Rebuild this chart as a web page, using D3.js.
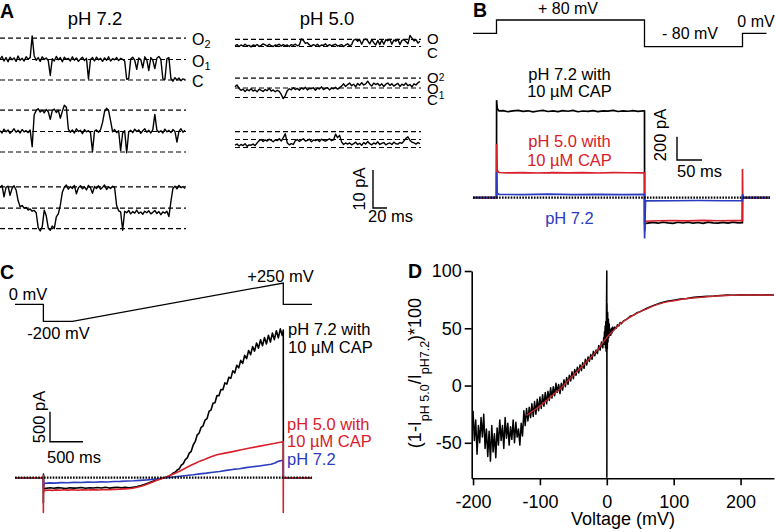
<!DOCTYPE html>
<html><head><meta charset="utf-8">
<script src="https://cdn.jsdelivr.net/npm/d3@7"></script>
<style>
body{margin:0;background:#fff}
svg{display:block}
text{font-family:"Liberation Sans",Arial,Helvetica,sans-serif}
</style>
</head><body>
<svg id="c" width="776" height="532"></svg>
<script>
// ================= DATA =================
// Panel A: single-channel traces (pA relative to closed level), uniform samples over the sweep
const aTraceMs = 264;
const a72Row1 = [5.4,6.2,5.0,5.9,4.8,6.0,5.3,5.8,4.9,6.3,5.2,5.7,5.0,6.1,5.5,5.9,
 11.6,6.4,5.2,5.9,4.9,6.1,5.4,5.8,5.1,1.2,
 5.6,5.0,6.2,5.3,5.9,4.8,6.0,5.4,5.7,5.0,6.1,5.2,5.8,4.9,5.5,6.0,5.1,5.7,
 0.3,
 5.4,5.9,5.0,6.0,5.3,5.7,4.9,5.8,5.2,6.1,5.0,5.6,5.3,5.9,5.1,5.7,5.4,5.0,
 0.2,0.4,
 5.5,6.0,5.2,2.8,5.8,5.4,3.2,6.1,5.3,2.5,5.9,5.2,3.0,5.7,6.2,5.4,
 0.3,0.1,5.6,5.9,
 0.4,-0.3,0.6,0.0,0.5,-0.2,0.3,0.1];
const a72Row2 = [5.6,5.0,6.0,5.3,5.8,4.9,5.5,6.1,5.2,5.7,5.0,5.9,5.3,5.6,5.1,5.8,
 1.4,
 9.8,10.9,11.4,10.5,11.0,10.3,11.2,10.6,8.6,10.9,11.3,10.4,11.0,8.9,10.7,12.3,11.8,
 6.0,5.2,5.8,5.0,6.1,5.4,5.7,4.8,5.9,5.3,5.6,5.1,0.1,5.5,5.8,5.2,5.9,
 7.8,10.6,11.5,10.9,8.2,
 5.3,5.9,5.1,5.6,
 0.4,5.0,5.6,-0.2,5.3,
 5.7,5.1,6.0,5.4,5.8,4.9,5.6,6.1,5.2,5.7,5.0,5.9,
 9.9,
 5.8,5.2,5.6,5.0,6.0,5.3,5.7,5.1,5.9,5.4,
 2.6,
 5.5,6.1,5.2,5.7];
const a72Row3 = [10.8,11.4,8.4,10.9,11.2,8.8,10.6,11.3,10.2,
 7.4,5.8,6.1,5.4,5.6,4.9,5.2,4.6,4.8,4.2,
 0.3,-0.6,0.5,
 4.9,3.4,
 0.2,-0.4,0.7,0.0,
 3.1,3.9,6.2,
 9.6,
 10.9,11.5,10.4,11.1,10.6,11.4,9.2,10.8,11.3,10.5,11.0,10.2,11.4,10.7,9.3,11.1,10.6,11.3,10.4,10.9,11.5,10.3,11.0,10.6,11.2,10.8,
 6.1,4.7,4.4,-0.4,4.6,
 4.2,4.8,3.9,4.5,4.1,4.9,4.0,4.4,3.8,4.6,4.2,4.7,3.9,4.3,4.8,4.0,4.5,3.7,4.4,4.1,4.6,3.2,
 7.2,10.6,
 11.2,10.5,11.4,10.8,11.1,10.6];
const a50Row1 = [0.2,0.5,0.0,0.4,0.1,0.6,0.2,0.3,-0.1,0.4,0.2,0.5,0.0,0.3,0.7,0.4,0.1,0.6,0.2,0.0,0.4,0.3,0.6,0.1,0.5,0.2,0.4,0.0,0.5,0.3,0.6,0.2,0.4,
 2.0,1.6,0.8,1.0,0.4,
 0.1,0.5,0.2,0.6,0.0,0.4,0.3,0.7,0.1,0.5,0.2,0.4,0.6,0.1,0.3,0.5,0.0,0.4,0.7,0.2,0.5,
 1.7,1.9,1.4,1.8,0.6,1.7,2.0,1.5,0.7,1.8,
 1.0,0.4,1.6,0.5,1.7,0.6,
 1.8,1.5,1.9,0.6,1.7,1.4,1.9,0.5,1.6,1.8,1.3,0.7,
 2.9,2.2,1.5,1.8,0.9,1.4];
const a50Row2 = [2.8,3.3,2.4,
 1.9,2.2,1.6,2.1,1.8,2.3,1.7,2.0,1.5,2.2,1.9,1.6,2.1,1.8,2.4,1.7,2.0,1.5,1.9,1.6,
 0.8,-0.3,0.5,
 1.8,2.3,2.0,2.6,2.1,2.4,1.9,2.5,2.2,2.7,2.0,2.4,2.3,2.6,1.9,2.5,2.2,2.8,2.1,2.4,2.6,2.0,2.5,2.3,2.7,2.2,2.6,
 3.0,3.6,2.9,3.4,3.8,3.1,3.5,2.8,3.7,3.2,3.9,3.3,3.6,4.3,3.5,3.0,3.8,3.4,3.7,3.1,3.6,2.9,3.5,3.8,3.2,3.6,3.0,3.4,3.7,2.9,3.5,3.2,3.8,3.1,3.4,2.8,3.6,3.3,3.9,4.2];
const a50Row3 = [0.6,0.9,0.4,0.8,0.5,1.0,0.3,0.7,0.6,0.9,0.5,1.2,
 1.8,2.1,1.6,2.0,1.7,2.2,1.9,1.5,2.0,1.8,2.3,1.7,2.6,
 3.6,
 1.2,0.7,1.0,0.8,
 1.8,2.1,1.6,2.0,2.3,1.7,1.9,2.2,1.5,2.0,1.8,2.1,1.6,2.2,1.9,1.7,2.0,2.3,1.8,2.0,
 3.5,2.6,3.2,
 1.5,0.8,1.2,
 0.9,1.2,0.7,1.0,1.4,0.8,1.1,0.6,1.3,0.9,1.6,1.0,0.7,1.2,0.9,1.5,0.8,1.1,1.3,0.7,1.0,1.2,0.8,1.4,1.0,0.9,1.3,1.1,1.7,2.4,2.8,1.9,1.4,1.2,0.9,1.3,1.0];
const aLevels72 = [0, 5.4, 11];
const aLevels50r1 = [0, 1.9];
const aLevels50r2 = [0, 2.5, 5.1];
const aLevels50r3 = [0, 2.1, 4.2];

// Panel B: step protocol (ms, mV) and currents [ms, pA]
const bProtoMs = [0, 47, 47, 343, 343, 539, 539, 587];
const bProtoMv = [0, 0, 80, 80, -80, -80, 0, 0];
const bBlack = [[0,0],[47,0],[47.2,837],[48.5,765],[52,745],[60,748],[70,738],[80,745],[90,750],[100,741],[110,746],[120,737],[130,744],[140,749],[150,740],[160,745],[170,739],[180,747],[190,742],[200,750],[210,738],[220,744],[230,741],[240,748],[250,739],[260,745],[270,743],[280,749],[290,740],[300,746],[310,742],[320,747],[330,741],[340,745],[343,744],[343.2,-222],[350,-218],[360,-212],[370,-219],[380,-209],[390,-216],[400,-221],[410,-211],[420,-217],[430,-210],[440,-219],[450,-213],[460,-221],[470,-210],[480,-216],[490,-219],[500,-212],[510,-218],[520,-210],[530,-216],[538.8,-214],[539,0],[594,0]];
const bRed = [[0,0],[47,0],[47.2,460],[48.5,232],[52,216],[70,213],[100,216],[130,212],[160,215],[190,213],[220,216],[250,212],[280,215],[310,214],[343,213],[343.2,-290],[345,-202],[370,-198],[400,-196],[430,-199],[460,-195],[490,-198],[520,-196],[538.8,-197],[539,246],[539.5,0],[594,0]];
const bBlue = [[0,0],[47,0],[47.2,220],[48.5,40],[52,28],[100,27],[150,30],[200,26],[250,29],[300,27],[343,28],[343.2,-350],[345,-28],[400,-26],[450,-24],[500,-26],[538.8,-25],[539,30],[541,0],[594,0]];

// Panel C: ramp protocol (ms, mV) and currents [ms, pA]
const cProtoMs = [0, 430, 430, 870, 4065, 4065, 4500];
const cProtoMv = [0, 0, -200, -200, 250, 0, 0];
const cBlack = [[0,0],[429,0],[430,-420],[432,60],[436,-190],
 [470,-178],[530,-168],[590,-176],[650,-165],[710,-173],[770,-180],[830,-167],[890,-174],[950,-170],[1010,-163],[1070,-177],[1130,-168],[1190,-172],[1250,-164],[1310,-171],[1370,-160],[1430,-173],[1490,-166],[1550,-158],[1610,-169],[1670,-162],[1730,-167],[1790,-158],
 [1850,-148],[1910,-132],[1970,-108],[2030,-86],[2090,-58],[2150,-34],[2210,-14],[2270,4],[2330,26],[2370,52],
 [2400,80],[2430,95],[2460,130],[2490,150],[2520,210],[2550,235],[2580,300],[2610,330],[2640,410],[2670,440],
 [2700,545],[2730,600],[2760,710],[2790,745],[2820,840],[2850,865],[2880,960],[2910,985],[2940,1105],[2970,1130],
 [3000,1240],[3030,1250],[3060,1370],[3090,1365],[3120,1470],[3150,1465],[3180,1580],[3210,1560],[3240,1675],[3270,1655],
 [3300,1780],[3330,1745],[3360,1875],[3390,1830],[3420,1955],[3450,1905],[3480,2040],[3510,1985],[3540,2120],[3570,2050],
 [3600,2185],[3630,2110],[3660,2245],[3690,2160],[3720,2300],[3750,2200],[3780,2335],[3810,2230],[3840,2375],[3870,2260],
 [3900,2410],[3930,2300],[3960,2450],[3990,2330],[4020,2480],[4050,2370],[4062,2440],[4065,2460],[4066,0],[4500,0]];
const cRed = [[0,0],[429,0],[430,-580],[431,40],[433,-260],[440,-218],[500,-205],[560,-212],[620,-203],[680,-209],[740,-200],[800,-207],[870,-202],[950,-208],[1030,-201],[1110,-206],[1190,-199],[1270,-204],[1350,-197],[1430,-201],[1510,-194],[1590,-191],[1670,-186],[1750,-180],[1800,-172],[1850,-160],[1910,-142],[1970,-120],[2030,-96],[2090,-70],[2150,-44],[2210,-20],[2270,4],[2330,30],[2390,56],[2450,86],[2500,112],[2545,138],[2600,170],[2650,198],[2700,225],[2750,250],[2800,276],[2870,305],[2950,342],[3060,383],[3180,410],[3300,435],[3430,466],[3560,495],[3690,522],[3820,550],[3940,573],[4060,600],[4064,598],[4065,-580],[4066,30],[4068,0],[4500,0]];
const cBlue = [[0,0],[429,0],[430,-160],[434,-105],[460,-92],[520,-86],[600,-90],[700,-82],[800,-85],[900,-78],[1000,-80],[1100,-74],[1200,-76],[1300,-70],[1400,-72],[1500,-64],[1600,-62],[1700,-56],[1800,-52],[1900,-44],[2000,-36],[2100,-25],[2200,-12],[2300,0],[2400,12],[2500,24],[2600,36],[2700,48],[2800,64],[2900,76],[3000,92],[3100,104],[3200,122],[3300,138],[3400,150],[3500,168],[3600,182],[3700,196],[3800,212],[3880,225],[3940,245],[3980,270],[4020,280],[4050,290],[4064,296],[4065,0],[4500,0]];

// Panel D: inhibition ratio vs voltage
const dGridStartMv = -200, dGridStepMv = 2;
const dBlackGridRatio = [-22,-48,-30,-60,-35,-50,-28,-45,-25,-55,-38,-62,-40,-66,-35,-58,-42,-63,-37,-52,-30,-48,-35,-55,-28,-46,-33,-52,-36,-47,-30,-50,-32,-45,-38,-52,-33,-44,-22,
 -35,-20,-31,-19,-28,-16,-27,-14,-25,-12,-22,-10,-20,-8,-18,-6,-16,-5,-13,-2,-11,-1,-9,2,-6,1,-7,2,-4,5,-1,7,
 1,9,4,12,6,14,9,16,11,18,13,20,15,23,18,25,21,27,23,30,26,31,28,35,31,38,33];
const dBlackTailMv =    [-4.5,-4,-3.5,-3,-2.5,-2,-1.5,-1,-0.5,0,0.1,0.3,0.8,1.3,1.8,2.4,3,3.6,4.2,5,6,7,8,9,10,12,14,16,18,20,22,25,30,35,40,45,50,60,70,80,90,100,110,120,130,140,150,160,170,180,190,200,210,220,230,240,250];
const dBlackTailRatio = [42,36,47,38,52,33,56,30,66,100,-80,72,32,64,38,58,42,54,44,49,44,50,46,51,48,51,50,53,52,55,54,56.5,58,60.5,61.5,63.5,64.5,67.5,70,72,73.5,74.5,75.5,76,77,77.5,78,78.2,78.6,79,78.8,79.2,79,79.3,79,79.2,79];
const dFitMv =    [-120,-110,-100,-90,-80,-70,-60,-50,-40,-30,-20,-10,0,10,20,30,40,50,60,70,80,90,100,120,140,160,180,200,225,250];
const dFitRatio = [-26,-22,-18,-13,-8,-3,3,9,15,21,27,34,42,48,54,58,61.5,64.5,67,69.5,71.5,73,74,76,77,78,78.6,79,79,79];
const dXTicks = [-200, -100, 0, 100, 200];
const dYTicks = [-50, 0, 50, 100];

// ================= DRAWING =================
const RED = "#d8202a", BLUE = "#2b3cbf";
const svg = d3.select("#c");

function label(x, y, s, o = {}) {
  const t = svg.append("text").attr("x", x).attr("y", y)
    .attr("font-size", o.size || 16.5)
    .attr("text-anchor", o.anchor || "start")
    .attr("fill", o.fill || "#000")
    .attr("font-weight", o.weight || "normal")
    .text(s);
  return t;
}
function vlabel(x, y, s, size) {
  svg.append("text").attr("transform", `translate(${x},${y}) rotate(-90)`)
    .attr("font-size", size).attr("text-anchor", "middle").text(s);
}

// ---------- Panel A ----------
label(0, 17.5, "A", {size: 19.5, weight: "bold"});
label(95, 25, "pH 7.2", {size: 18.5, anchor: "middle"});
label(327, 25, "pH 5.0", {size: 18.5, anchor: "middle"});

const aX72 = d3.scaleLinear().domain([0, aTraceMs]).range([0, 185]);
const aX50 = d3.scaleLinear().domain([0, aTraceMs]).range([235, 420]);
const aSampleMs = aTraceMs / (a72Row1.length - 1);

function aRow(xs, cY, levels, values) {
  const y = d3.scaleLinear().domain([0, 10]).range([cY, cY - 38]);
  const [x0, x1] = xs.range();
  svg.append("g").selectAll("line").data(levels).join("line")
    .attr("x1", x0).attr("x2", x1 + 1)
    .attr("y1", d => y(d)).attr("y2", d => y(d))
    .attr("stroke", "#000").attr("stroke-width", 1.2).attr("stroke-dasharray", "5,3");
  svg.append("path").datum(values)
    .attr("d", d3.line().x((d, i) => xs(i * aSampleMs)).y(d => y(d)))
    .attr("fill", "none").attr("stroke", "#000").attr("stroke-width", 1.4)
    .attr("stroke-linejoin", "round");
  return y;
}
aRow(aX72, 80, aLevels72, a72Row1);
aRow(aX72, 152, aLevels72, a72Row2);
aRow(aX72, 228.7, aLevels72, a72Row3);
aRow(aX50, 46.5, aLevels50r1, a50Row1);
aRow(aX50, 97.5, aLevels50r2, a50Row2);
aRow(aX50, 147.5, aLevels50r3, a50Row3);

function levLabel(x, y, main, sub, size, subDy) {
  const t = svg.append("text").attr("x", x).attr("y", y).attr("font-size", size).attr("fill", "#000");
  t.append("tspan").text(main);
  if (sub) t.append("tspan").attr("font-size", size * 0.68).attr("dy", subDy).attr("fill", "#000").text(sub);
}
levLabel(192, 45, "O", "2", 16, 3);
levLabel(192, 67, "O", "1", 16, 3);
levLabel(192, 87, "C", null, 16, 0);
levLabel(427, 43.5, "O", null, 15, 0);
levLabel(427, 57.5, "C", null, 15, 0);
levLabel(427, 83, "O", "2", 15, -2);
levLabel(427, 93.5, "O", "1", 15, 5);
levLabel(427, 104.5, "C", null, 15, 0);

// A scale bar
{
  const yS = d3.scaleLinear().domain([0, 10]).range([208, 170]);
  const xS = d3.scaleLinear().domain([0, aTraceMs]).range([373, 373 + 185]);
  svg.append("path").attr("d", `M${xS(0)},${yS(10)}V${yS(0)}H${xS(20)}`)
    .attr("fill", "none").attr("stroke", "#000").attr("stroke-width", 1.4);
  vlabel(365, 189, "10 pA", 16.5);
  label(368, 222, "20 ms", {size: 16.5});
}

// ---------- Panel B ----------
label(473, 17, "B", {size: 19.5, weight: "bold"});
const xB = d3.scaleLinear().domain([0, 594]).range([473, 770]);
const yBp = d3.scaleLinear().domain([0, 80]).range([33.3, 20]);
const yB = d3.scaleLinear().domain([0, 200]).range([197.7, 174.4]);
svg.append("path").datum(d3.zip(bProtoMs, bProtoMv))
  .attr("d", d3.line().x(d => xB(d[0])).y(d => yBp(d[1])))
  .attr("fill", "none").attr("stroke", "#000").attr("stroke-width", 1.3);
label(568, 13.5, "+ 80 mV", {size: 16, anchor: "middle"});
label(690, 39.3, "- 80 mV", {size: 16, anchor: "middle"});
label(756, 27.3, "0 mV", {size: 16, anchor: "middle"});

const lineB = d3.line().x(d => xB(d[0])).y(d => yB(d[1]));
[[bBlack, "#000"], [bRed, RED], [bBlue, BLUE]].forEach(([d, c]) => {
  svg.append("path").datum(d).attr("d", lineB)
    .attr("fill", "none").attr("stroke", c).attr("stroke-width", 1.7);
});
svg.append("line").attr("x1", xB(0)).attr("x2", xB(594)).attr("y1", yB(0)).attr("y2", yB(0))
  .attr("stroke", "#000").attr("stroke-width", 2.2).attr("stroke-dasharray", "1.6,1.3");
label(569.5, 80, "pH 7.2 with", {size: 16.5, anchor: "middle"});
label(569.5, 97, "10 µM CAP", {size: 16.5, anchor: "middle"});
label(569.5, 147, "pH 5.0 with", {size: 16.5, anchor: "middle", fill: RED});
label(569.5, 166, "10 µM CAP", {size: 16.5, anchor: "middle", fill: RED});
label(569.5, 224, "pH 7.2", {size: 16.5, anchor: "middle", fill: BLUE});
// B scale bar
{
  const yS = d3.scaleLinear().domain([0, 200]).range([160, 160 - (yB(0) - yB(200))]);
  const xS = d3.scaleLinear().domain([0, 50]).range([677, 677 + (xB(50) - xB(0))]);
  svg.append("path").attr("d", `M${xS(0)},${yS(200)}V${yS(0)}H${xS(50)}`)
    .attr("fill", "none").attr("stroke", "#000").attr("stroke-width", 1.4);
  vlabel(666, 135, "200 pA", 16.5);
  label(677, 177, "50 ms", {size: 16.5});
}

// ---------- Panel C ----------
label(0, 279, "C", {size: 19.5, weight: "bold"});
const xC = d3.scaleLinear().domain([0, 4500]).range([15, 312]);
const yCp = d3.scaleLinear().domain([0, 250]).range([304.3, 283]);
const yC = d3.scaleLinear().domain([0, 500]).range([477.7, 447.7]);
svg.append("path").datum(d3.zip(cProtoMs, cProtoMv))
  .attr("d", d3.line().x(d => xC(d[0])).y(d => yCp(d[1])))
  .attr("fill", "none").attr("stroke", "#000").attr("stroke-width", 1.3);
label(28, 300, "0 mV", {size: 16.5, anchor: "middle"});
label(58.5, 338.5, "-200 mV", {size: 16.5, anchor: "middle"});
label(280.5, 281.5, "+250 mV", {size: 16.5, anchor: "middle"});

const lineC = d3.line().x(d => xC(d[0])).y(d => yC(d[1]));
[[cBlack, "#000"], [cBlue, BLUE], [cRed, RED]].forEach(([d, c]) => {
  svg.append("path").datum(d).attr("d", lineC)
    .attr("fill", "none").attr("stroke", c).attr("stroke-width", 1.6).attr("stroke-linejoin", "round");
});
svg.append("line").attr("x1", xC(0)).attr("x2", xC(4500)).attr("y1", yC(0)).attr("y2", yC(0))
  .attr("stroke", "#000").attr("stroke-width", 2.2).attr("stroke-dasharray", "1.6,1.3");
label(288, 335, "pH 7.2 with", {size: 16.5});
label(288, 353, "10 µM CAP", {size: 16.5});
label(287, 430, "pH 5.0 with", {size: 16.5, fill: RED});
label(287, 447, "10 µM CAP", {size: 16.5, fill: RED});
label(287, 465, "pH 7.2", {size: 16.5, fill: BLUE});
// C scale bar
{
  const yS = d3.scaleLinear().domain([0, 500]).range([441.7, 441.7 - (yC(0) - yC(500))]);
  const xS = d3.scaleLinear().domain([0, 500]).range([50, 50 + (xC(500) - xC(0))]);
  svg.append("path").attr("d", `M${xS(0)},${yS(500)}V${yS(0)}H${xS(500)}`)
    .attr("fill", "none").attr("stroke", "#000").attr("stroke-width", 1.4);
  vlabel(45, 417, "500 pA", 16.5);
  label(47, 463, "500 ms", {size: 16.5});
}

// ---------- Panel D ----------
label(408, 278, "D", {size: 19.5, weight: "bold"});
const xD = d3.scaleLinear().domain([-202, 250]).range([471.7, 774]);
const yD = d3.scaleLinear().domain([-81, 100]).range([478.3, 271]);
const dBlack = dBlackGridRatio.map((r, i) => [dGridStartMv + i * dGridStepMv, r])
  .concat(d3.zip(dBlackTailMv, dBlackTailRatio));
const lineD = d3.line().x(d => xD(d[0])).y(d => yD(d[1]));
svg.append("path").datum(dBlack).attr("d", lineD)
  .attr("fill", "none").attr("stroke", "#000").attr("stroke-width", 1.5).attr("stroke-linejoin", "round");
svg.append("path").datum(d3.zip(dFitMv, dFitRatio)).attr("d", lineD.curve(d3.curveMonotoneX))
  .attr("fill", "none").attr("stroke", "#c8262c").attr("stroke-width", 1.4);

const gx = svg.append("g").attr("transform", `translate(0,${yD(-81)})`)
  .call(d3.axisBottom(xD).tickValues(dXTicks).tickSize(7).tickSizeOuter(0).tickPadding(10));
const gy = svg.append("g").attr("transform", `translate(${xD(-202)},0)`)
  .call(d3.axisLeft(yD).tickValues(dYTicks).tickSize(7).tickSizeOuter(0).tickPadding(3));
[gx, gy].forEach(g => {
  g.select(".domain").attr("stroke", "#000").attr("stroke-width", 1.6);
  g.selectAll(".tick line").attr("stroke", "#000").attr("stroke-width", 1.6);
  g.selectAll(".tick text").attr("font-size", 18).attr("fill", "#000")
    .attr("font-family", '"Liberation Sans", Arial, sans-serif');
});
gx.selectAll(".tick text").text(d => d < 0 ? "-" + Math.abs(d) : d);
gy.selectAll(".tick text").text(d => d < 0 ? "-" + Math.abs(d) : d);
label(623, 525, "Voltage (mV)", {size: 18, anchor: "middle"});
{
  const t = svg.append("text").attr("transform", "translate(420.5,373) rotate(-90)")
    .attr("font-size", 18).attr("text-anchor", "middle");
  t.append("tspan").text("(1-I");
  t.append("tspan").attr("font-size", 12.5).attr("dy", 8).text("pH 5.0");
  t.append("tspan").attr("dy", -8).text("/I");
  t.append("tspan").attr("font-size", 12.5).attr("dy", 8).text("pH7.2");
  t.append("tspan").attr("dy", -8).text(")*100");
}
</script>
</body></html>
